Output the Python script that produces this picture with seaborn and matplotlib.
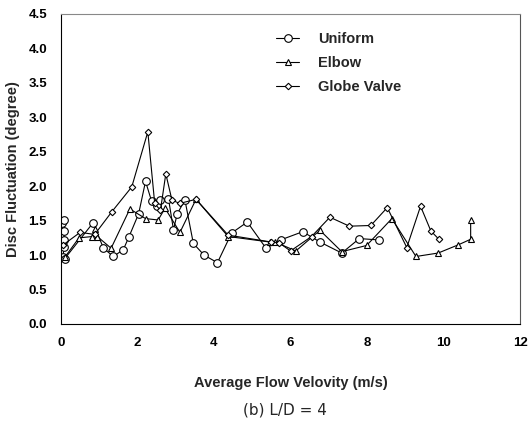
import matplotlib
matplotlib.use("Agg")
import matplotlib.pyplot as plt
import seaborn as sns
import pandas as pd
from matplotlib.ticker import MultipleLocator

# ---- data ----
uniform_x = [0.03, 0.08, 0.08, 0.08, 0.08, 0.05, 0.10, 0.84, 1.11, 1.37, 1.63, 1.78, 2.03,
             2.21, 2.37, 2.50, 2.60, 2.81, 2.94, 3.04, 3.24, 3.46, 3.74, 4.09, 4.46, 4.87,
             5.36, 5.74, 6.32, 6.77, 7.34, 7.80, 8.32]
uniform_y = [1.47, 1.51, 1.35, 1.22, 1.12, 0.97, 0.95, 1.47, 1.10, 0.98, 1.08, 1.27, 1.60,
             2.07, 1.78, 1.72, 1.80, 1.82, 1.37, 1.60, 1.80, 1.17, 1.00, 0.89, 1.32, 1.48,
             1.10, 1.22, 1.34, 1.19, 1.03, 1.24, 1.22]

elbow_x = [0.10, 0.47, 0.82, 0.90, 0.95, 1.31, 1.80, 2.21, 2.54, 2.72, 3.11, 3.53, 4.37,
           5.46, 5.60, 6.14, 6.77, 7.34, 7.99, 8.65, 9.28, 9.86, 10.39, 10.71, 10.71]
elbow_y = [0.97, 1.25, 1.27, 1.38, 1.27, 1.10, 1.67, 1.53, 1.51, 1.68, 1.33, 1.81, 1.27,
           1.19, 1.19, 1.06, 1.36, 1.05, 1.14, 1.53, 0.98, 1.03, 1.15, 1.23, 1.51]

globe_x = [0.06, 0.50, 0.88, 1.33, 1.85, 2.27, 2.45, 2.60, 2.74, 2.90, 3.10, 3.53, 4.37,
           5.50, 5.70, 6.00, 6.55, 7.03, 7.54, 8.10, 8.53, 9.04, 9.40, 9.67, 9.88]
globe_y = [1.15, 1.33, 1.30, 1.63, 1.99, 2.79, 1.75, 1.65, 2.18, 1.80, 1.75, 1.81, 1.29,
           1.19, 1.18, 1.06, 1.27, 1.55, 1.42, 1.43, 1.69, 1.11, 1.71, 1.35, 1.23]

x_ticks = [0, 2, 4, 6, 8, 10, 12]
y_ticks = [0.0, 0.5, 1.0, 1.5, 2.0, 2.5, 3.0, 3.5, 4.0, 4.5]

sns.set_style("white")
plt.rcParams['font.family'] = ['Liberation Sans', 'DejaVu Sans']

fig = plt.figure(figsize=(5.29, 4.26), dpi=100)
ax = fig.add_axes([61/529, 102/426, 459/529, 310/426])

series = [
    ("Uniform", uniform_x, uniform_y, "o", 5.5),
    ("Elbow", elbow_x, elbow_y, "^", 4.5),
    ("Globe Valve", globe_x, globe_y, "D", 3.3),
]
for name, xs, ys, mk, ms in series:
    df = pd.DataFrame({"x": xs, "y": ys})
    sns.lineplot(data=df, x="x", y="y", ax=ax, sort=False, estimator=None,
                 color="black", linewidth=0.8, marker=mk, markersize=ms,
                 markerfacecolor="white", markeredgecolor="black",
                 markeredgewidth=0.8, label=name)

ax.set_xlim(0, 12)
ax.set_ylim(0, 4.5)
ax.set_xticks(x_ticks)
ax.set_yticks(y_ticks)
ax.set_yticklabels([f"{v:.1f}" for v in y_ticks])
ax.xaxis.set_minor_locator(MultipleLocator(1))
ax.yaxis.set_minor_locator(MultipleLocator(0.25))
ax.tick_params(axis="both", which="both", direction="in", length=3, width=0.7,
               colors="black", labelsize=9.5)
ax.tick_params(axis="y", which="major", pad=10)
ax.tick_params(axis="x", which="major", pad=9)
ax.tick_params(axis="both", which="minor", length=2)
for lab in ax.get_xticklabels() + ax.get_yticklabels():
    lab.set_fontweight("bold")
for s in ax.spines.values():
    s.set_color("black")
    s.set_linewidth(0.8)
ax.spines["top"].set_color("#888888")
ax.spines["right"].set_color("#555555")

ax.set_xlabel("Average Flow Velovity (m/s)", fontsize=10.5, fontweight="bold", labelpad=20)
ax.set_ylabel("Disc Fluctuation (degree)", fontsize=10.5, fontweight="bold", labelpad=6)

leg = ax.legend(loc="upper left", bbox_to_anchor=(0.44, 0.985), frameon=False,
                fontsize=10.5, handlelength=1.6, labelspacing=0.7, handletextpad=1.3)
for t in leg.get_texts():
    t.set_fontweight("bold")

fig.text(285/529, 1 - 410/426, "(b) L/D = 4", ha="center", va="center",
         fontsize=11, family=["DejaVu Sans"])

fig.savefig("out.png", dpi=100)
